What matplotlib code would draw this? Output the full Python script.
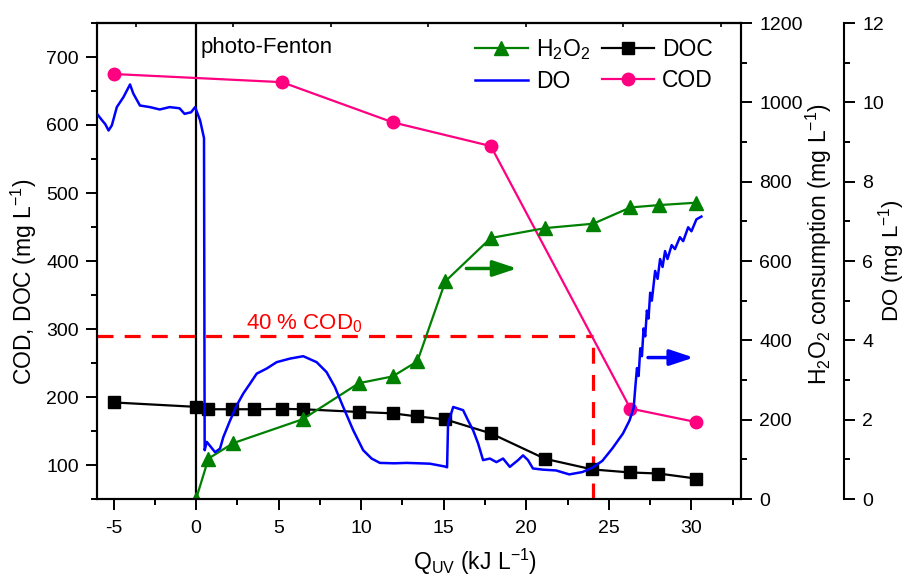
import matplotlib
matplotlib.use('Agg')
import matplotlib.pyplot as plt
from matplotlib.ticker import MultipleLocator

plt.rcParams['font.family'] = ['Liberation Sans', 'DejaVu Sans']
plt.rcParams['mathtext.fontset'] = 'custom'
plt.rcParams['mathtext.rm'] = 'Liberation Sans'
plt.rcParams['mathtext.it'] = 'Liberation Sans:italic'
plt.rcParams['mathtext.bf'] = 'Liberation Sans:bold'
plt.rcParams['axes.unicode_minus'] = False

# COD (mg/L), left axis
cod_q = [-5.0, 5.2, 11.9, 17.85, 26.3, 30.3]
cod = [675, 663, 604, 569, 183, 163]

# DOC (mg/L), left axis
doc_q = [-5.0, 0.0, 0.75, 2.2, 3.5, 5.2, 6.45, 9.86, 11.9, 13.35, 15.1,
         17.85, 21.15, 24.0, 26.3, 28.0, 30.3]
doc = [192, 185.5, 182, 182, 182, 182.5, 182, 178, 176, 171.5, 167,
       146.5, 109, 93.5, 89, 87.5, 80]

# H2O2 consumption (mg/L), first right axis
h2o2_q = [0.0, 0.75, 2.26, 6.45, 9.86, 11.9, 13.4, 15.1, 17.85, 21.15,
          24.05, 26.3, 28.05, 30.3]
h2o2 = [0, 102, 141, 201, 292, 309, 347, 549, 658, 683, 694, 735, 741, 747]

# dissolved oxygen (mg/L), second right axis
do_q = [-6.0, -5.7, -5.5, -5.3, -5.1, -4.8, -4.4, -4.0, -3.8, -3.4, -2.8,
        -2.2, -1.6, -1.0, -0.7, -0.3, -0.06, 0.24, 0.40, 0.48, 0.52, 0.65,
        0.9, 1.15, 1.45, 1.65, 2.06, 2.46, 2.86, 3.27, 3.67, 4.28, 4.88,
        5.69, 6.49, 7.3, 7.9, 8.41, 8.91, 9.52, 10.12, 10.63, 11.13, 12.0,
        12.75, 13.5, 14.16, 15.06, 15.2, 15.26, 15.57, 15.87, 16.17, 16.47,
        16.78, 17.08, 17.38, 17.79, 18.19, 18.59, 19.0, 19.5, 19.8, 20.1,
        20.4, 21.0, 21.8, 22.6, 23.4, 24.0, 24.6, 25.2, 25.85, 26.25, 26.5,
        26.6, 26.7, 26.8, 26.9, 27.0, 27.1, 27.2, 27.3, 27.4, 27.5, 27.6,
        27.8, 27.95, 28.1, 28.25, 28.4, 28.55, 28.8, 29.0, 29.3, 29.5, 29.8,
        30.0, 30.3, 30.6]
do = [9.71, 9.55, 9.45, 9.29, 9.42, 9.88, 10.13, 10.45, 10.22, 9.92, 9.88,
      9.82, 9.88, 9.85, 9.71, 9.75, 9.88, 9.55, 9.25, 9.10, 1.23, 1.44,
      1.31, 1.18, 1.27, 1.56, 1.98, 2.36, 2.66, 2.91, 3.16, 3.29, 3.45,
      3.54, 3.60, 3.45, 3.20, 2.82, 2.32, 1.73, 1.23, 1.02, 0.91, 0.90,
      0.91, 0.90, 0.89, 0.82, 0.80, 1.90, 2.32, 2.28, 2.24, 1.98,
      1.73, 1.40, 0.98, 1.02, 0.93, 1.02, 0.81, 0.98, 1.10, 0.98,
      0.77, 0.74, 0.72, 0.62, 0.68, 0.79, 0.96, 1.27, 1.65, 1.98, 2.30,
      2.82, 3.3, 3.1, 3.8, 3.6, 4.3, 4.1, 4.75, 4.55, 5.2, 5.0,
      5.75, 5.55, 6.05, 5.85, 6.25, 6.05, 6.4, 6.3, 6.6, 6.5, 6.85,
      6.75, 7.05, 7.12]

# ticks seen on the top frame edge
top_ticks = [-3.65, 2.26, 8.2, 14.05, 20.0, 25.85, 31.8]

cod_40 = 290      # 40 % of COD0
q_40 = 24.05

pink = '#ff0080'
green = '#008000'
blue = '#0000ff'

fig = plt.figure(figsize=(9.09, 5.76), dpi=100)
ax = fig.add_axes([97 / 909, 77 / 576, 644 / 909, 476 / 576])
ax2 = ax.twinx()
ax3 = ax.twinx()
ax3.spines['right'].set_position(('axes', 1.16))

# main axis data
ax.axvline(0, color='k', lw=1.6, zorder=1)
ax.hlines(cod_40, -6, q_40, colors='#ff0000', linestyles=(0, (5, 3.5)), lw=2.3)
ax.vlines(q_40, 50, cod_40, colors='#ff0000', linestyles=(0, (5, 3.5)), lw=2.3)
l_cod, = ax.plot(cod_q, cod, '-o', color=pink, lw=1.6, ms=9, label='COD')
l_doc, = ax.plot(doc_q, doc, '-s', color='k', lw=1.6, ms=8.5, label='DOC')

l_h2o2, = ax2.plot(h2o2_q, h2o2, '-^', color=green, lw=1.6, ms=9.5,
                   label='H$_2$O$_2$')
l_do, = ax3.plot(do_q, do, '-', color=blue, lw=1.8, label='DO')

# arrows pointing to right axes
ax.annotate('', xy=(19.6, 389), xytext=(16.2, 389),
            arrowprops=dict(arrowstyle='-|>,head_length=0.9,head_width=0.3',
                            color=green, lw=2.5, mutation_scale=16))
ax.annotate('', xy=(30.3, 258), xytext=(27.2, 258),
            arrowprops=dict(arrowstyle='-|>,head_length=0.9,head_width=0.3',
                            color=blue, lw=2.5, mutation_scale=16))

ax.text(0.25, 706, 'photo-Fenton', fontsize=16, va='baseline', ha='left')
ax.text(3.0, 299, '40 % COD$_0$', fontsize=16, color='#ff0000',
        va='baseline', ha='left')

# limits and ticks
ax.set_xlim(-6, 33)
ax.set_ylim(50, 750)
ax2.set_ylim(0, 1200)
ax3.set_ylim(0, 12)

ax.set_xticks(range(-5, 35, 5))
ax.xaxis.set_minor_locator(MultipleLocator(2.5))
ax.set_yticks(range(100, 800, 100))
ax.yaxis.set_minor_locator(MultipleLocator(50))
ax2.set_yticks(range(0, 1400, 200))
ax2.yaxis.set_minor_locator(MultipleLocator(100))
ax3.set_yticks(range(0, 14, 2))
ax3.yaxis.set_minor_locator(MultipleLocator(1))

for a in (ax, ax2, ax3):
    for s in a.spines.values():
        s.set_linewidth(1.5)
    a.tick_params(which='major', direction='out', length=8, width=1.4,
                  labelsize=14, pad=5)
    a.tick_params(which='minor', direction='out', length=4.5, width=1.4)
ax.tick_params(axis='x', which='major', pad=7)
ax.tick_params(top=False, right=False, which='both')
ax3.spines['left'].set_visible(False)
ax3.spines['top'].set_visible(False)
ax3.spines['bottom'].set_visible(False)

sec = ax.secondary_xaxis('top')
sec.set_xticks(top_ticks)
sec.tick_params(direction='in', length=3, width=1.2, labeltop=False)
sec.spines['top'].set_linewidth(1.5)

ax.set_xlabel('Q$_{\\mathrm{UV}}$ (kJ L$^{-1}$)', fontsize=16.5)
ax.xaxis.set_label_coords(0.587, -0.1)
ax.set_ylabel('COD, DOC (mg L$^{-1}$)', fontsize=16.5)
ax.yaxis.set_label_coords(-0.09, 0.456)
ax2.set_ylabel('H$_2$O$_2$ consumption (mg L$^{-1}$)', fontsize=16.5)
ax2.yaxis.set_label_coords(1.097, 0.536)
ax3.set_ylabel('DO (mg L$^{-1}$)', fontsize=16)
ax3.yaxis.set_label_coords(1.21, 0.502)

handles = [l_h2o2, l_do, l_doc, l_cod]
ax3.legend(handles, [h.get_label() for h in handles], ncol=2,
           loc='upper right', bbox_to_anchor=(0.978, 1.0), frameon=False,
           fontsize=16.5, handlelength=2.3, handletextpad=0.35,
           columnspacing=0.5, labelspacing=0.38, borderaxespad=0.2)

fig.savefig('out.png', dpi=100)
